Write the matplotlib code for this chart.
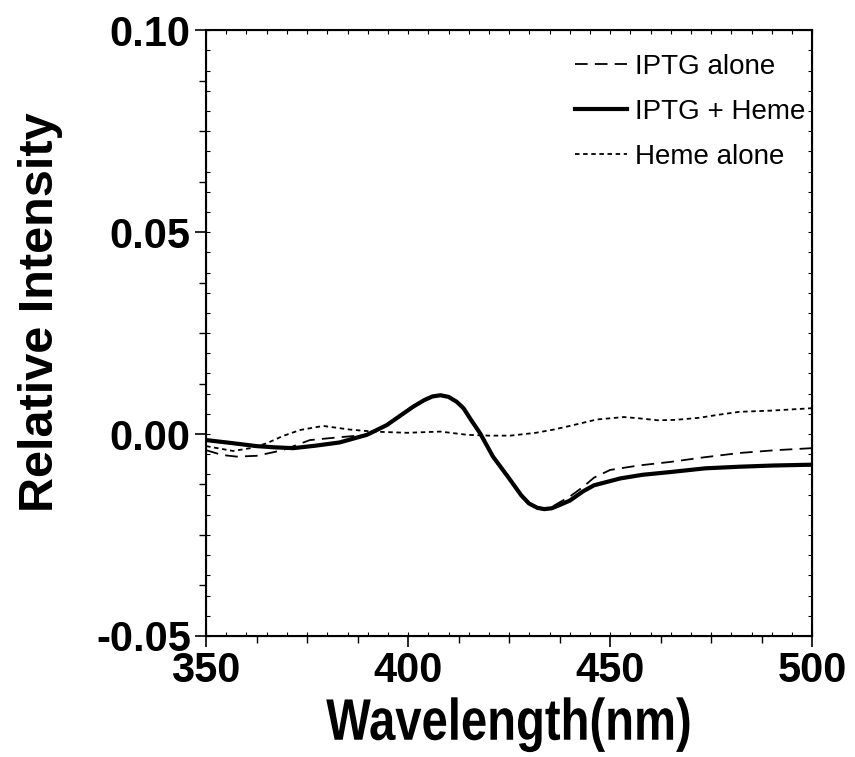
import matplotlib
matplotlib.use("Agg")
import matplotlib.pyplot as plt
from matplotlib.ticker import MultipleLocator, NullFormatter, FormatStrFormatter
from matplotlib.patheffects import AbstractPathEffect
from matplotlib.transforms import Affine2D

plt.rcParams['font.family'] = ['Liberation Sans', 'DejaVu Sans']

# Spectra (wavelength in nm, relative intensity)
wl_iptg = [350, 354, 357.6, 362.5, 369, 375.7, 383, 390, 394.7, 398, 401.3, 404, 406, 408,
           410, 412, 413.7, 415.5, 417.8, 421, 425, 428, 429.9, 432, 433.7, 435.5, 437, 440,
           443.3, 446, 450, 457, 465, 473, 482, 491, 500]
iptg_alone = [-0.004, -0.0052, -0.0056, -0.0054, -0.004, -0.0015, -0.0008, -0.0002, 0.0022,
              0.0045, 0.0068, 0.0084, 0.0093, 0.0096, 0.0092, 0.0080, 0.0064, 0.0036, 0.0002,
              -0.0056, -0.011, -0.0150, -0.0170, -0.0181, -0.0184, -0.0181, -0.0172, -0.0155,
              -0.0131, -0.0108, -0.0089, -0.0078, -0.0069, -0.0058, -0.0047, -0.0040, -0.0035]

wl_both = [350, 356, 362.5, 367, 371.6, 377, 383, 389.8, 394.7, 398, 401.3, 404, 406, 408,
           410, 412, 413.7, 415.5, 417.8, 421, 425, 428, 429.9, 432, 433.7, 435.5, 437, 440,
           443.3, 446, 452.5, 458, 465.1, 473.5, 482, 490.4, 500]
iptg_heme = [-0.0015, -0.0022, -0.003, -0.0033, -0.0035, -0.0029, -0.0021, -0.0002, 0.0022,
             0.0045, 0.0068, 0.0084, 0.0093, 0.0096, 0.0092, 0.0080, 0.0064, 0.0036, 0.0002,
             -0.0056, -0.011, -0.0152, -0.0172, -0.0183, -0.0186, -0.0184, -0.0178, -0.0165,
             -0.0142, -0.0127, -0.0110, -0.0101, -0.0094, -0.0085, -0.0081, -0.0078, -0.0076]

wl_heme = [350, 356.7, 361, 365, 369, 373.3, 379, 385.6, 391.3, 399.7, 408, 414.6, 420,
           425.3, 431.6, 436, 440, 446.7, 453.4, 457, 461.8, 466, 471.9, 477, 482, 490, 500]
heme_alone = [-0.0030, -0.0042, -0.0035, -0.0023, -0.0005, 0.0010, 0.0020, 0.0011, 0.0006,
              0.0003, 0.0006, -0.0002, -0.0004, -0.0004, 0.0003, 0.0011, 0.0020, 0.0036,
              0.0042, 0.0039, 0.0034, 0.0035, 0.0040, 0.0048, 0.0055, 0.0058, 0.0064]


class Stretch(AbstractPathEffect):
    """Scale glyphs about their baseline (tall, narrow lettering)."""

    def __init__(self, sx=1.0, sy=1.0):
        super().__init__()
        self.sx, self.sy = sx, sy

    def draw_path(self, renderer, gc, tpath, affine, rgbFace=None):
        renderer.draw_path(gc, tpath, Affine2D().scale(self.sx, self.sy) + affine, rgbFace)


fig = plt.figure(figsize=(8.55, 7.57), dpi=100)
ax = fig.add_axes([0.241, 0.160, 0.709, 0.800])

ax.plot(wl_iptg, iptg_alone, color='black', lw=1.3, ls=(0, (7, 4)), label='IPTG alone')
ax.plot(wl_both, iptg_heme, color='black', lw=3.0, ls='-', label='IPTG + Heme',
        solid_joinstyle='round')
ax.plot(wl_heme, heme_alone, color='black', lw=1.3, ls=(0, (2.5, 2)), label='Heme alone')

ax.set_xlim(350, 500)
ax.set_ylim(-0.05, 0.10)

ax.xaxis.set_major_locator(MultipleLocator(50))
ax.xaxis.set_minor_locator(MultipleLocator(12.5))
ax.yaxis.set_major_locator(MultipleLocator(0.05))
ax.yaxis.set_minor_locator(MultipleLocator(0.0125))
ax.yaxis.set_major_formatter(FormatStrFormatter('%.2f'))

ax.tick_params(which='major', direction='out', length=8, width=1.2,
               labelsize=30, pad=3)
ax.tick_params(which='minor', direction='out', length=5, width=1.0)
for lab in ax.get_xticklabels() + ax.get_yticklabels():
    lab.set_fontweight('bold')

# fine inward ticks along every edge
for side in ('top', 'bottom'):
    sec = ax.secondary_xaxis(side)
    sec.xaxis.set_major_locator(MultipleLocator(5))
    sec.xaxis.set_major_formatter(NullFormatter())
    sec.tick_params(direction='in', length=3, width=0.8)
for side in ('left', 'right'):
    sec = ax.secondary_yaxis(side)
    sec.yaxis.set_major_locator(MultipleLocator(0.005))
    sec.yaxis.set_major_formatter(NullFormatter())
    sec.tick_params(direction='in', length=3, width=0.8)

for sp in ax.spines.values():
    sp.set_linewidth(1.5)

xl = ax.set_xlabel('Wavelength(nm)', fontsize=34, fontweight='bold', labelpad=10.5)
xl.set_path_effects([Stretch(1.0, 1.24)])
ax.set_ylabel('Relative Intensity', fontsize=35, fontweight='bold', labelpad=24)
ax.yaxis.label.set_y(0.535)

leg = ax.legend(loc='upper left', bbox_to_anchor=(0.5906, 0.980), frameon=False,
                fontsize=20, handlelength=1.87, handletextpad=0.29, labelspacing=0.69,
                borderaxespad=0)

fig.savefig('out.png', dpi=100)
